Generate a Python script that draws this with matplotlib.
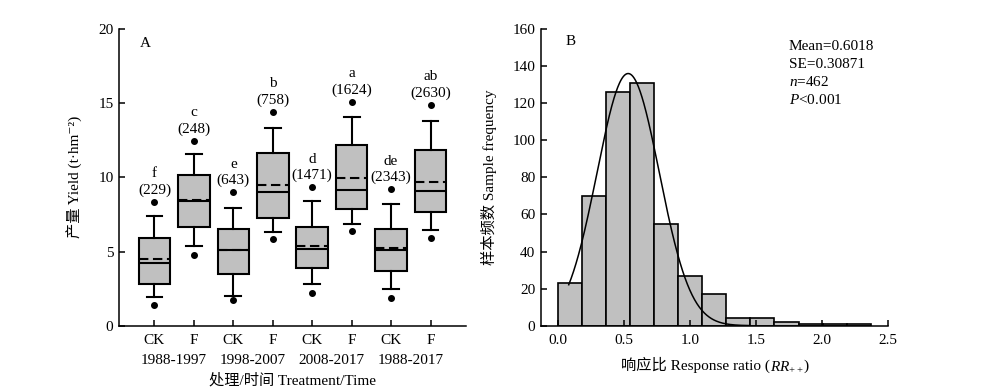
import numpy as np
import matplotlib
matplotlib.use("Agg")
import matplotlib.pyplot as plt
from matplotlib.offsetbox import TextArea, HPacker, AnchoredOffsetbox

plt.rcParams['font.family'] = ['Liberation Serif', 'Noto Sans CJK SC', 'DejaVu Serif']
plt.rcParams['mathtext.fontset'] = 'custom'
plt.rcParams['mathtext.rm'] = 'Liberation Serif'
plt.rcParams['mathtext.it'] = 'Liberation Serif:italic'
FS = 11
plt.rcParams['font.size'] = FS

# ---------------- data: panel A ----------------
treatments = ["CK", "F", "CK", "F", "CK", "F", "CK", "F"]
periods = ["1988-1997", "1998-2007", "2008-2017", "1988-2017"]
box_q1 = [2.81, 6.68, 3.49, 7.28, 3.89, 7.87, 3.71, 7.65]
box_med = [4.25, 8.41, 5.10, 9.01, 5.15, 9.17, 5.10, 9.08]
box_q3 = [5.93, 10.14, 6.50, 11.62, 6.66, 12.21, 6.54, 11.83]
box_mean = [4.52, 8.50, 5.12, 9.51, 5.40, 9.96, 5.26, 9.69]
whisk_lo = [1.91, 5.40, 2.02, 6.30, 2.81, 6.88, 2.45, 6.47]
whisk_hi = [7.38, 11.56, 7.96, 13.31, 8.41, 14.07, 8.18, 13.80]
flier_lo = [1.42, 4.75, 1.71, 5.85, 2.18, 6.36, 1.85, 5.93]
flier_hi = [8.34, 12.45, 8.99, 14.41, 9.33, 15.08, 9.20, 14.90]
sig_letters = ["f", "c", "e", "b", "d", "a", "de", "ab"]
sample_n = ["(229)", "(248)", "(643)", "(758)", "(1471)", "(1624)", "(2343)", "(2630)"]

# ---------------- data: panel B ----------------
bin_width = 0.182
hist_counts = [23, 70, 126, 131, 55, 27, 17, 4, 4, 2, 1, 1, 1]
fit_mu, fit_sigma, fit_peak = 0.53, 0.236, 136
fit_range = (0.08, 1.45)
stats_lines = ["Mean=0.6018", "SE=0.30871", "$n$=462", "$P$<0.001"]

fig = plt.figure(figsize=(10, 3.9), dpi=100)

box_color = "#c0c0c0"
lw = 1.5

# ---------------- panel A ----------------
axA = fig.add_axes([0.119, 0.1649, 0.347, 0.7607])
positions = np.arange(1, len(treatments) + 1)
stats = []
for i in range(len(treatments)):
    stats.append(dict(med=box_med[i], q1=box_q1[i], q3=box_q3[i],
                      whislo=whisk_lo[i], whishi=whisk_hi[i], mean=box_mean[i],
                      fliers=[flier_lo[i], flier_hi[i]]))
axA.bxp(stats, positions=positions, widths=0.8, capwidths=0.4,
        patch_artist=True, showmeans=True, meanline=True, showfliers=True,
        boxprops=dict(facecolor=box_color, edgecolor='black', linewidth=lw),
        medianprops=dict(color='black', linewidth=lw),
        meanprops=dict(color='black', linewidth=lw, linestyle=(0, (4.5, 2.2))),
        whiskerprops=dict(color='black', linewidth=lw),
        capprops=dict(color='black', linewidth=lw),
        flierprops=dict(marker='o', markerfacecolor='black', markeredgecolor='black',
                        markersize=4, linestyle='none'))
for i, p in enumerate(positions):
    axA.text(p, flier_hi[i] + 0.8, sample_n[i], ha='center', va='center')
    axA.text(p, flier_hi[i] + 1.9, sig_letters[i], ha='center', va='center')

axA.set_xlim(0.1, 8.9)
axA.set_ylim(0, 20)
axA.set_yticks([0, 5, 10, 15, 20])
axA.set_xticks(positions)
axA.set_xticklabels(treatments)
for j, per in enumerate(periods):
    axA.text(positions[2 * j] + 0.5, -0.116, per, transform=axA.get_xaxis_transform(),
             ha='center', va='center')
axA.text(0.5, -0.185, "处理/时间 Treatment/Time", transform=axA.transAxes,
         ha='center', va='center')
axA.set_ylabel("产量 Yield (t·hm⁻²)")
axA.yaxis.set_label_coords(-0.104, 0.5)
axA.text(0.06, 0.952, "A", transform=axA.transAxes, ha='left', va='center')

# ---------------- panel B ----------------
axB = fig.add_axes([0.541, 0.1649, 0.3473, 0.7607])
left_edges = np.arange(len(hist_counts)) * bin_width
axB.bar(left_edges, hist_counts, width=bin_width, align='edge',
        color=box_color, edgecolor='black', linewidth=1.2)
xs = np.linspace(fit_range[0], fit_range[1], 300)
ys = fit_peak * np.exp(-(xs - fit_mu) ** 2 / (2 * fit_sigma ** 2))
axB.plot(xs, ys, color='black', linewidth=1.1)
axB.set_xlim(-0.13, 2.5)
axB.set_ylim(0, 160)
axB.set_yticks(np.arange(0, 161, 20))
axB.set_xticks([0.0, 0.5, 1.0, 1.5, 2.0, 2.5])
axB.set_xticklabels(["0.0", "0.5", "1.0", "1.5", "2.0", "2.5"])
axB.set_ylabel("样本频数 Sample frequency")
axB.yaxis.set_label_coords(-0.127, 0.5)
axB.text(0.072, 0.957, "B", transform=axB.transAxes, ha='left', va='center')
for k, s in enumerate(stats_lines):
    axB.text(0.714, 0.940 - k * 0.0597, s, transform=axB.transAxes, ha='left', va='center')

parts = [TextArea("响应比 Response ratio (", textprops=dict(fontsize=FS)),
         TextArea("$RR_{++}$", textprops=dict(fontsize=FS)),
         TextArea(")", textprops=dict(fontsize=FS))]
pack = HPacker(children=parts, align='baseline', pad=0, sep=0)
ab = AnchoredOffsetbox(loc='center', child=pack, pad=0, borderpad=0, frameon=False,
                       bbox_to_anchor=(0.5, -0.1325), bbox_transform=axB.transAxes)
axB.add_artist(ab)

for ax in (axA, axB):
    for side in ('top', 'right'):
        ax.spines[side].set_visible(False)
    for side in ('left', 'bottom'):
        ax.spines[side].set_linewidth(1.1)
    ax.tick_params(direction='in', length=4, width=1.1)
    ax.tick_params(axis='x', pad=6)
    ax.tick_params(axis='y', pad=4)

fig.savefig("out.png", dpi=100)
